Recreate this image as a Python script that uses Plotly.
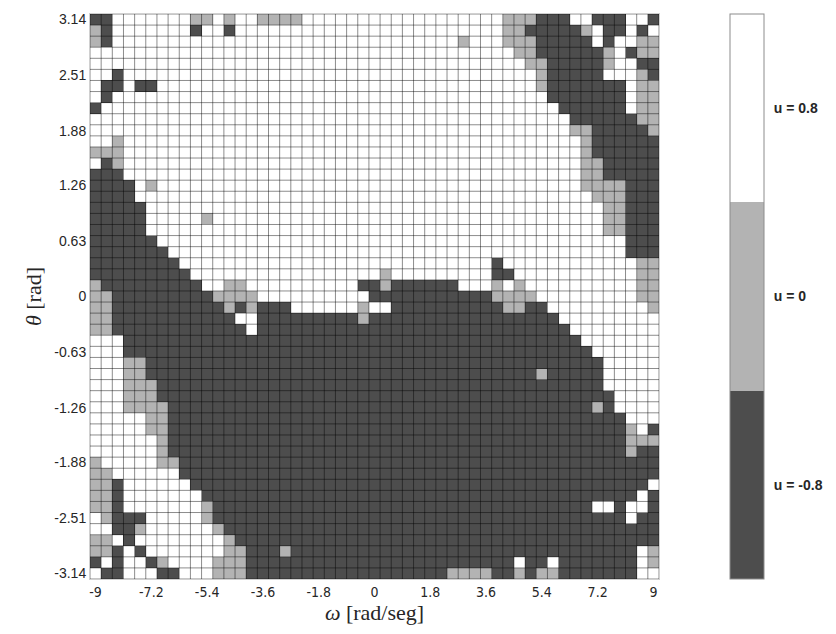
import numpy as np
import plotly.graph_objects as go

# Control action u(omega, theta) on a 51 x 51 grid.
# '#' -> u = -0.8, '+' -> u = 0, '.' -> u = 0.8 ; first row is theta = 3.14
policy_rows = [
    "##.......+ +.+..++++. .......... .......+++ ###..###.. #",
    "+#.......# ..#....... .......... .......++# ####+.##.# .",
    "+#........ .......... .......... ...+...+++ #####.#..+ +",
    ".......... .......... .......... ........++ ######+.#+ +",
    ".......... .......... .......... .........+ +#####+..# #",
    "..#....... .......... .......... .......... +#####...+ #",
    ".##.##.... .......... .......... .......... +#######.+ +",
    ".#........ .......... .......... .......... .#######.+ +",
    "#......... .......... .......... .......... ..######.+ +",
    ".......... .......... .......... .......... ...######+ +",
    ".......... .......... .......... .......... ...++##### +",
    "..+....... .......... .......... .......... ....+##### #",
    "+++....... .......... .......... .......... ....+##### #",
    ".#+....... .......... .......... .......... ....++#### #",
    "###....... .......... .......... .......... ....++#### #",
    "####.+.... .......... .......... .......... ....++++## #",
    "####...... .......... .......... .......... .....+++## #",
    "#####..... .......... .......... .......... ......++## #",
    "#####..... +......... .......... .......... ......++## #",
    "#####..... .......... .......... .......... ......++## #",
    "######.... .......... .......... .......... ........## #",
    "#######... .......... .......... .......... ........## #",
    "########.. .......... .......... ......#... .........+ +",
    "#########. .......... ......+... ......##.. .........+ +",
    "+######### ..++...... ....##+### ###...+.+. .........+ +",
    "++######## #++++..... .....##### ######++++ .........+ +",
    "++######## ##+#+###.. ....+..### #######++# #......... +",
    "++######## ###..##### ####+##### ########## ##........ .",
    "++######## ####.##### ########## ########## ###....... .",
    "...####### ########## ########## ########## ####...... .",
    "...####### ########## ########## ########## #####..... .",
    "...++##### ########## ########## ########## ######.... .",
    "...++##### ########## ########## ########## +#####.... .",
    "...+++#### ########## ########## ########## ######.... .",
    "...+++#### ########## ########## ########## #######... .",
    "...++++### ########## ########## ########## #####+#... .",
    ".....++### ########## ########## ########## ########.. .",
    ".....++### ########## ########## ########## ########+. #",
    "......+### ########## ########## ########## ########++ +",
    "......+### ########## ########## ########## ########+# #",
    "+.....++## ########## ########## ########## ########## #",
    "++......## ########## ########## ########## ########## #",
    "++#......# ########## ########## ########## ########## .",
    "++#....... ########## ########## ########## #########. #",
    "++#....... +######### ########## ########## #####..#.. #",
    ".+###..... +######### ########## ########## ########.# #",
    "..##+..... .+######## ########## ########## ########## #",
    "++.#...... ..+####### ########## ########## ########## #",
    "++#.#..... ..++###+## ########## ########## #########. +",
    "#.#..#+... .+++###### ########## ########.# #.#######. +",
    ".##...##.. .+++###### ########## ##++++##+# ++#######. .",
]

u_levels = {"#": -0.8, "+": 0.0, ".": 0.8}
u_labels = ["u = -0.8", "u = 0", "u = 0.8"]
u_values = [-0.8, 0.0, 0.8]

omega_ticks = [-9, -7.2, -5.4, -3.6, -1.8, 0, 1.8, 3.6, 5.4, 7.2, 9]
omega_ticktext = ["-9", "-7.2", "-5.4", "-3.6", "-1.8", "0", "1.8", "3.6", "5.4", "7.2", "9"]
theta_ticks = [3.14, 2.51, 1.88, 1.26, 0.63, 0, -0.63, -1.26, -1.88, -2.51, -3.14]
theta_ticktext = ["3.14", "2.51", "1.88", "1.26", "0.63", "0", "-0.63", "-1.26", "-1.88", "-2.51", "-3.14"]

rows = [r.replace(" ", "") for r in policy_rows]
n = len(rows)
assert all(len(r) == n for r in rows)

omega = np.linspace(-9, 9, n)
theta = np.linspace(-3.14, 3.14, n)
# bottom row first for an upward theta axis
z = np.array([[u_levels[c] for c in r] for r in rows[::-1]])

dark, mid, light = "#4d4d4d", "#b3b3b3", "#ffffff"
colorscale = [[0, dark], [1 / 3, dark], [1 / 3, mid], [2 / 3, mid], [2 / 3, light], [1, light]]

plot_w = 575
cb_left = (737 - 90) / plot_w
cb_thick = 34

fig = go.Figure()
fig.add_trace(go.Heatmap(
    x=omega, y=theta, z=z,
    zmin=-1.2, zmax=1.2, colorscale=colorscale,
    colorbar=dict(
        x=cb_left, xanchor="left", xpad=0, ypad=0,
        y=0.5, yanchor="middle", len=1, lenmode="fraction",
        thickness=cb_thick, outlinecolor="#8c8c8c", outlinewidth=1,
        tickvals=u_values, ticktext=u_labels,
        # invisible outer ticks only push the labels away from the bar
        ticks="outside", ticklen=7, tickcolor="rgba(0,0,0,0)",
        tickfont=dict(family="Liberation Sans, Arial", size=14, color="#262626", weight="bold"),
    ),
    hoverinfo="skip",
))

# cell borders, drawn translucent so they read grey on white and near-black on dark cells
dx = omega[1] - omega[0]
dy = theta[1] - theta[0]
xe = np.concatenate([omega - dx / 2, [omega[-1] + dx / 2]])
ye = np.concatenate([theta - dy / 2, [theta[-1] + dy / 2]])
lx, ly = [], []
for xv in xe:
    lx += [xv, xv, None]
    ly += [ye[0], ye[-1], None]
for yv in ye:
    lx += [xe[0], xe[-1], None]
    ly += [yv, yv, None]
fig.add_trace(go.Scatter(x=lx, y=ly, mode="lines",
                         line=dict(color="rgba(0,0,0,0.45)", width=1),
                         hoverinfo="skip", showlegend=False))

# short inner ticks on both edges of the colour bar
cb_right = cb_left + cb_thick / plot_w
tick_w = 5 / plot_w
for v in u_values:
    fy = (v + 1.2) / 2.4
    for x0, x1 in ((cb_left, cb_left + tick_w), (cb_right - tick_w, cb_right)):
        fig.add_shape(type="line", xref="paper", yref="paper",
                      x0=x0, x1=x1, y0=fy, y1=fy,
                      line=dict(color="#8c8c8c", width=1))

title_font = dict(family="Liberation Serif, DejaVu Serif", size=22, color="#262626")
fig.update_xaxes(
    range=[xe[0], xe[-1]], tickvals=omega_ticks, ticktext=omega_ticktext,
    showgrid=False, zeroline=False, ticks="",
    showline=True, mirror=True, linecolor="#d0d0d0", linewidth=1,
    tickfont=dict(family="DejaVu Sans Condensed, Liberation Sans Narrow, Liberation Sans", size=14, color="#262626"),
    title=dict(text="<i>ω</i> [rad/seg]", font=title_font, standoff=4),
)
fig.update_yaxes(
    range=[ye[0], ye[-1]], tickvals=theta_ticks, ticktext=theta_ticktext,
    showgrid=False, zeroline=False, ticks="",
    showline=True, mirror=True, linecolor="#d0d0d0", linewidth=1,
    tickfont=dict(family="Liberation Sans, Arial", size=14, color="#262626"),
    title=dict(text="<i>θ</i> [rad]", font=title_font, standoff=6),
)

fig.update_layout(
    width=836, height=634,
    margin=dict(l=90, r=171, t=14, b=55),
    paper_bgcolor="white", plot_bgcolor="white",
    showlegend=False,
)

fig.write_html("out.html")
